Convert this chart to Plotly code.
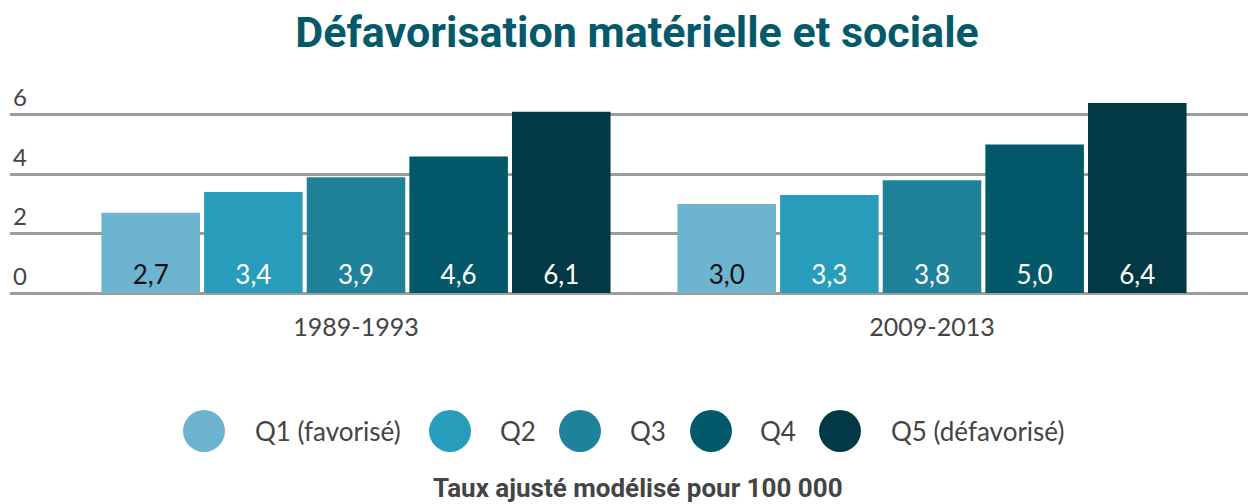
import plotly.graph_objects as go

periods = ["1989-1993", "2009-2013"]
quintiles = ["Q1 (favorisé)", "Q2", "Q3", "Q4", "Q5 (défavorisé)"]
values = {
    "Q1 (favorisé)": [2.7, 3.0],
    "Q2": [3.4, 3.3],
    "Q3": [3.9, 3.8],
    "Q4": [4.6, 5.0],
    "Q5 (défavorisé)": [6.1, 6.4],
}
colors = ["#6cb4cf", "#279dbb", "#1e829b", "#03596a", "#033845"]
label_colors = ["#111111", "white", "white", "white", "white"]
y_ticks = [0, 2, 4, 6]

W, H = 1254, 504
L, R, T, B = 10, 6, 70, 211
PW, PH = W - L - R, H - T - B


def px(x):
    return (x - L) / PW


def py(y):
    return (H - B - y) / PH


fig = go.Figure()
xpos = list(range(len(periods)))
for i, q in enumerate(quintiles):
    fig.add_trace(go.Bar(
        x=xpos, y=values[q], name=q,
        marker=dict(color=colors[i], line=dict(width=0)),
        texttemplate="%{y:.1f}", textposition="inside", insidetextanchor="start",
        textangle=0,
        textfont=dict(family="Lato, sans-serif", size=26, color=label_colors[i]),
        showlegend=False,
    ))

# custom legend with large circles
leg_circle_x = [204, 450, 580, 711, 840]
leg_text_x = [253, 498, 628, 758, 889]
leg_y = 431
r = 21
for i, q in enumerate(quintiles):
    fig.add_shape(type="circle", xref="paper", yref="paper",
                  x0=px(leg_circle_x[i] - r), x1=px(leg_circle_x[i] + r),
                  y0=py(leg_y + r), y1=py(leg_y - r),
                  fillcolor=colors[i], line=dict(width=0))
    fig.add_annotation(text=q, xref="paper", yref="paper", x=px(leg_text_x[i]), y=py(leg_y),
                       xanchor="left", yanchor="middle", showarrow=False,
                       font=dict(family="Lato, sans-serif", size=26, color="#444444"))

fig.add_annotation(text="<b>Taux ajusté modélisé pour 100 000</b>", xref="paper", yref="paper",
                   x=px(638), y=py(488), xanchor="center", yanchor="middle", showarrow=False,
                   font=dict(family="Roboto, sans-serif", size=26, color="#444444"))

fig.update_layout(
    width=W, height=H,
    margin=dict(l=L, r=R, t=T, b=B),
    paper_bgcolor="white", plot_bgcolor="white",
    separators=", ",
    barmode="group", bargap=0.109, bargroupgap=0.04,
    title=dict(text="<b>Défavorisation matérielle et sociale</b>", x=px(637), xref="paper",
               xanchor="center", y=1 - 32 / H, yanchor="middle",
               font=dict(family="Roboto, sans-serif", size=43, color="#04596b")),
    xaxis=dict(range=[-346 / 576, 892 / 576], tickvals=xpos, ticktext=periods,
               showgrid=False, zeroline=False, showline=False,
               ticks="outside", ticklen=12, tickcolor="rgba(0,0,0,0)",
               tickfont=dict(family="Lato, sans-serif", size=25, color="#444444")),
    yaxis=dict(range=[0, PH / 29.7], tickvals=y_ticks, ticktext=[str(v) for v in y_ticks],
               ticklabelposition="inside top", showgrid=True, gridcolor="#a09d99", gridwidth=2.5,
               zeroline=True, zerolinecolor="#a09d99", zerolinewidth=2.5, showline=False,
               tickfont=dict(family="Lato, sans-serif", size=24, color="#444444")),
)

fig.write_html("out.html", config={"displayModeBar": False},
               post_script="document.body.style.margin='0';")
